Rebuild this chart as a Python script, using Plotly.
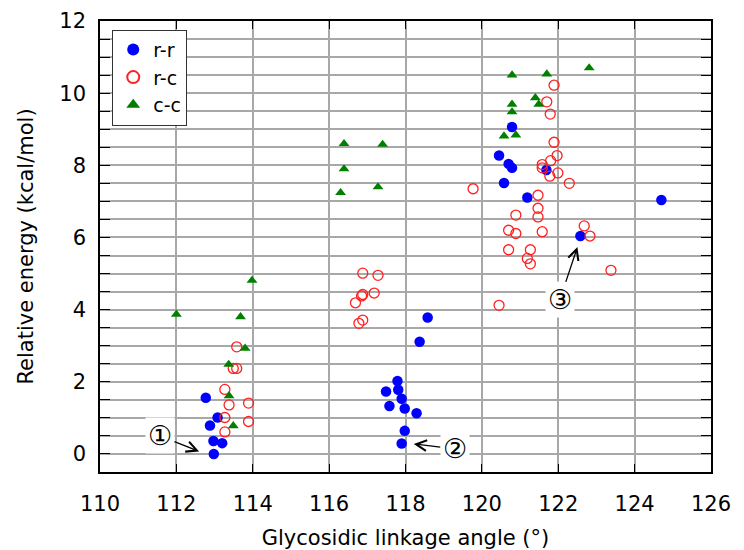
import plotly.graph_objects as go

# r-r (filled blue circles)
rr_x = [112.77, 113.08, 112.88, 112.97, 113.20, 112.98,
        118.58, 118.37, 117.79, 117.49, 117.81, 117.90, 117.58, 117.98, 118.29, 117.98, 117.90,
        120.45, 120.79, 120.70, 120.79, 121.69, 120.58, 121.19, 122.58, 124.70]
rr_y = [1.56, 1.01, 0.79, 0.36, 0.30, 0.00,
        3.78, 3.11, 2.02, 1.73, 1.78, 1.53, 1.33, 1.26, 1.13, 0.64, 0.29,
        8.27, 9.06, 8.04, 7.93, 7.87, 7.51, 7.11, 6.04, 7.04]

# r-c (open red circles)
rc_x = [113.58, 113.49, 113.58, 113.27, 113.38, 113.89, 113.27, 113.89, 113.27,
        116.88, 117.28, 116.88, 116.85, 117.18, 116.69, 116.88, 116.78,
        119.77, 120.45,
        121.89, 121.70, 121.79, 121.89, 121.97, 121.80, 121.58, 121.58, 121.78, 121.99,
        122.29, 121.47, 121.47, 120.89, 121.47, 120.70, 120.89, 121.58, 122.68, 122.83,
        120.70, 121.27, 121.19, 121.27, 123.38]
rc_y = [2.97, 2.37, 2.37, 1.79, 1.36, 1.41, 1.01, 0.90, 0.61,
        5.01, 4.95, 4.42, 4.38, 4.46, 4.19, 3.71, 3.62,
        7.35, 4.12,
        10.22, 9.76, 9.42, 8.64, 8.27, 8.13, 8.02, 7.93, 7.70, 7.79,
        7.50, 7.17, 6.81, 6.62, 6.57, 6.20, 6.11, 6.16, 6.32, 6.04,
        5.66, 5.66, 5.42, 5.27, 5.09]

# c-c (green triangles)
cc_x = [113.98, 112.00, 113.68, 113.80, 113.37, 113.38, 113.49,
        116.39, 117.40, 116.39, 116.30, 117.28,
        122.81, 120.79, 121.70, 121.40, 121.49, 120.79, 120.79, 120.58, 120.89]
cc_y = [4.81, 3.87, 3.80, 2.93, 2.48, 1.61, 0.78,
        8.60, 8.58, 7.90, 7.24, 7.40,
        10.70, 10.50, 10.53, 9.87, 9.69, 9.69, 9.48, 8.81, 8.84]

x_ticks = [110, 112, 114, 116, 118, 120, 122, 124, 126]
y_ticks = [0, 2, 4, 6, 8, 10, 12]

# annotations: label, text position, arrow target
ann_labels = ["①", "②", "③"]
ann_text_x = [111.57, 119.29, 122.04]
ann_text_y = [0.50, 0.14, 4.27]
ann_tip_x = [112.62, 118.19, 122.51]
ann_tip_y = [0.06, 0.28, 5.76]

FONT = "DejaVu Sans"
GRID = "#a8a8a8"

fig = go.Figure()
fig.add_trace(go.Scatter(x=rr_x, y=rr_y, mode="markers", name="r-r",
                         marker=dict(symbol="circle", size=10.5, color="#0000ff")))
fig.add_trace(go.Scatter(x=rc_x, y=rc_y, mode="markers", name="r-c",
                         marker=dict(symbol="circle-open", size=10, color="#ff2020",
                                     line=dict(width=1.3, color="#ff2020"))))
fig.add_trace(go.Scatter(x=cc_x, y=cc_y, mode="markers", name="c-c",
                         marker=dict(symbol="triangle-up", size=9.5, color="#008000")))

for lab, tx, ty, px, py in zip(ann_labels, ann_text_x, ann_text_y, ann_tip_x, ann_tip_y):
    fig.add_annotation(x=px, y=py, ax=tx, ay=ty, xref="x", yref="y", axref="x", ayref="y",
                       text=lab, showarrow=True, arrowhead=5, arrowsize=1.6, arrowwidth=1.3,
                       arrowcolor="black", standoff=1, startstandoff=0,
                       font=dict(family=FONT, size=27, color="black"),
                       bgcolor="white", borderpad=2)

# the page body adds an 8px offset; size/margins compensate for it
fig.update_layout(
    width=736, height=542,
    margin=dict(l=92, r=33, t=13, b=78),
    paper_bgcolor="white", plot_bgcolor="white",
    font=dict(family=FONT, size=20, color="black"),
    showlegend=True,
    legend=dict(x=0.02, y=0.981, xanchor="left", yanchor="top",
                bgcolor="white", bordercolor="#333333", borderwidth=1,
                font=dict(family=FONT, size=19), itemsizing="constant",
                tracegroupgap=0),
    xaxis=dict(range=[110, 126], tickvals=x_ticks, ticktext=[str(v) for v in x_ticks],
               showgrid=True, gridcolor=GRID, gridwidth=1.5,
               showline=True, linecolor="black", linewidth=1.5, mirror="ticks",
               ticks="inside", ticklen=8, tickcolor="black", tickwidth=1.2,
               zeroline=False, automargin=False, ticklabelstandoff=12,
               title=dict(text="Glycosidic linkage angle (°)", font=dict(family=FONT, size=21),
                          standoff=17),
               tickfont=dict(family=FONT, size=21)),
    yaxis=dict(range=[-0.5, 12], tickvals=y_ticks, ticktext=[str(v) for v in y_ticks],
               showgrid=True, gridcolor=GRID, gridwidth=1.5,
               showline=True, linecolor="black", linewidth=1.5, mirror="ticks",
               ticks="inside", ticklen=10, tickcolor="black", tickwidth=1.2,
               zeroline=False, automargin=False, ticklabelstandoff=8,
               minor=dict(dtick=0.5, tick0=0, showgrid=True, gridcolor=GRID, gridwidth=1.5,
                          ticks="inside", ticklen=10, tickcolor="black", tickwidth=1.2),
               title=dict(text="Relative energy (kcal/mol)", font=dict(family=FONT, size=21),
                          standoff=20),
               tickfont=dict(family=FONT, size=21)),
)

fig.write_html("out.html")
